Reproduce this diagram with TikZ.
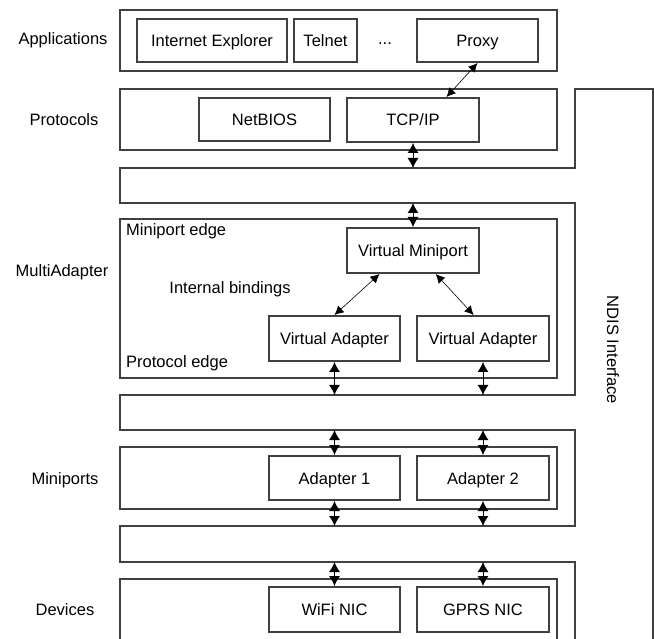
\documentclass[tikz,border=0pt]{standalone}
\usepackage{fontspec}
\setmainfont{Liberation Sans}
\usetikzlibrary{arrows.meta,calc}

\begin{document}
\begin{tikzpicture}[
  x=1pt,y=-1pt,
  font=\fontsize{16.5}{19}\selectfont,
  >={Latex[length=10pt,width=11pt]},
  tier/.style={draw=black!75,line width=2pt,minimum width=437pt,inner sep=0pt},
  modbox/.style={draw=black!75,line width=2pt,minimum height=44pt,inner sep=0pt,
    text height=12pt,text depth=0pt},
  lbl/.style={inner sep=0pt},
  link/.style={<->,line width=0.9pt},
  slink/.style={<->,line width=0.6pt,>={Latex[length=9pt,width=9pt]}}
]
\useasboundingbox (0,0) rectangle (654,639);
\clip (0,0) rectangle (654,639);

% NDIS interface: right strip with the three open bands
\draw[draw=black!75,line width=2pt,line join=miter]
  (653,660) -- (653,89) -- (575,89) -- (575,168) -- (120,168) -- (120,203)
  -- (575,203) -- (575,395) -- (120,395) -- (120,430) -- (575,430)
  -- (575,526) -- (120,526) -- (120,562) -- (575,562) -- (575,660);
\coordinate (b1n) at (0,168);
\coordinate (b1s) at (0,203);
\coordinate (b2n) at (0,395);
\coordinate (b2s) at (0,430);
\coordinate (b3n) at (0,526);
\coordinate (b3s) at (0,562);
\node[lbl,rotate=-90] (ndis) at (613,350) {NDIS Interface};

% Layers
\node[tier,minimum height=61pt] (apps) at (338.5,40.5) {};
\node[tier,minimum height=61pt] (proto) at (338.5,119.5) {};
\node[tier,minimum height=159pt] (multi) at (338.5,298.5) {};
\node[tier,minimum height=62pt] (minis) at (338.5,478) {};
\node[tier,minimum height=71pt] (devs) at (338.5,614.5) {};

\node[lbl] (appslbl) at (63,40.5) {Applications};
\node[lbl] (protolbl) at (64,120) {Protocols};
\node[lbl] (multilbl) at (62,272) {MultiAdapter};
\node[lbl] (minislbl) at (65,480) {Miniports};
\node[lbl] (devslbl) at (65,610) {Devices};

% Applications
\node[modbox,minimum width=150pt,minimum height=43pt] (ie) at (212,40.5) {Internet Explorer};
\node[modbox,minimum width=63pt,minimum height=43pt] (telnet) at (325.5,40.5) {Telnet};
\node[lbl] (dots) at (385,44) {...};
\node[modbox,minimum width=121pt,minimum height=43pt] (proxy) at (477.5,40.5) {Proxy};

% Protocols
\node[modbox,minimum width=131pt,minimum height=43pt] (netbios) at (264.5,119.5) {NetBIOS};
\node[modbox,minimum width=132pt] (tcp) at (413,120) {TCP/IP};

% MultiAdapter
\node[lbl,anchor=base west] (mpedge) at (126,236) {Miniport edge};
\node[lbl,anchor=base] (bind) at (230,294) {Internal bindings};
\node[lbl,anchor=base west] (prEdge) at (126,368) {Protocol edge};
\node[modbox,minimum width=132pt,minimum height=45pt] (vm) at (413,250.5) {Virtual Miniport};
\node[modbox,minimum width=131pt,minimum height=45pt] (va1) at (334.5,338.5) {Virtual Adapter};
\node[modbox,minimum width=132pt,minimum height=45pt] (va2) at (483,338.5) {Virtual Adapter};

% Miniports and devices
\node[modbox,minimum width=131pt] (ad1) at (334.5,478) {Adapter 1};
\node[modbox,minimum width=132pt] (ad2) at (483,478) {Adapter 2};
\node[modbox,minimum width=131pt,minimum height=45pt] (wifi) at (334.5,609.5) {WiFi NIC};
\node[modbox,minimum width=132pt,minimum height=45pt] (gprs) at (483,609.5) {GPRS NIC};

% Bindings
\draw[slink] (proxy.south) -- ($(tcp.north)!.5!(tcp.north east)$);
\draw[link] (tcp.south) -- (tcp.south |- b1n);
\draw[link] (vm.north |- b1s) -- (vm.north);
\draw[slink] ($(vm.south west)!.25!(vm.south east)$) -- (va1.north);
\draw[slink] ($(vm.south west)!.67!(vm.south east)$) -- ($(va2.north west)!.43!(va2.north east)$);
\foreach \n in {va1,va2} \draw[link] (\n.south) -- (\n.south |- b2n);
\foreach \n in {ad1,ad2} {
  \draw[link] (\n.north |- b2s) -- (\n.north);
  \draw[link] (\n.south) -- (\n.south |- b3n);
}
\foreach \n in {wifi,gprs} \draw[link] (\n.north |- b3s) -- (\n.north);
\end{tikzpicture}
\end{document}
